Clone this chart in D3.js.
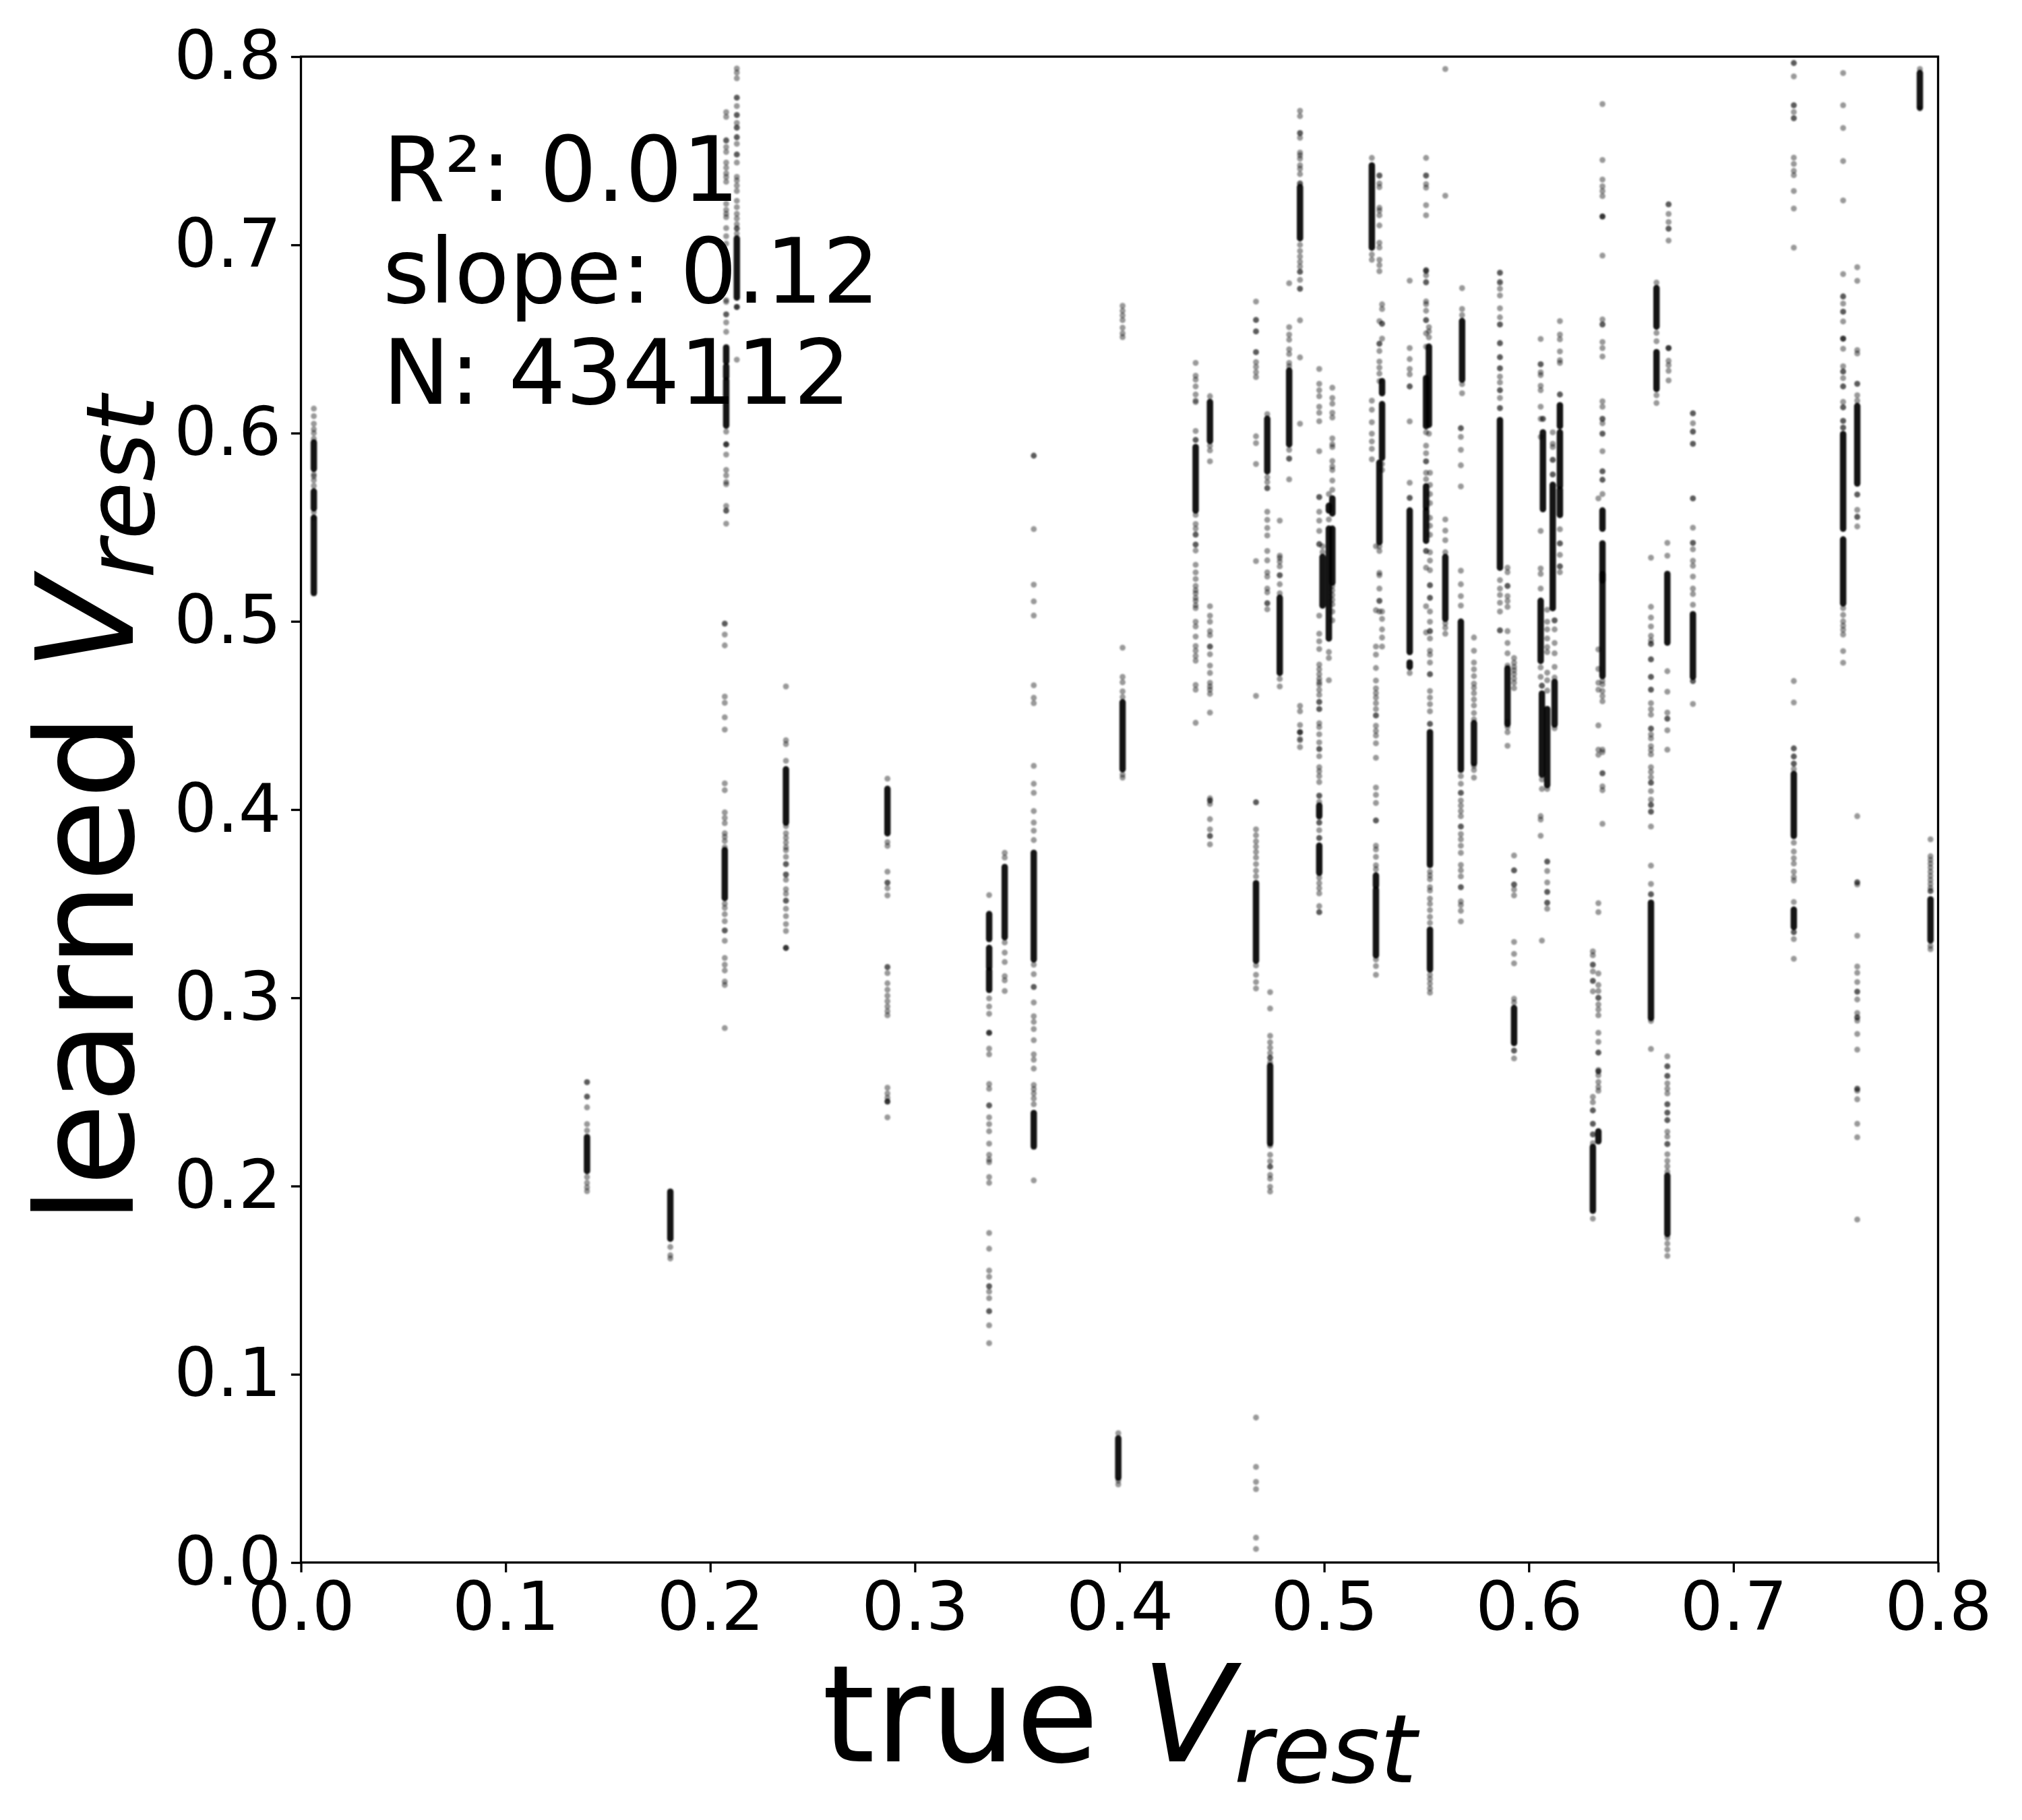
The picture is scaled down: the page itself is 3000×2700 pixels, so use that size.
<!DOCTYPE html>
<html lang="en">

<head>
    <meta charset="UTF-8">
    <title>learned vs true Vrest</title>
    <script src="https://d3js.org/d3.v7.min.js"></script>
    <style>
        * {
            margin: 0;
            padding: 0;
        }

        body {
            background: #fff;
        }

        text {
            font-family: "DejaVu Sans", sans-serif;
            fill: #000;
        }
    </style>
</head>

<body>
    <svg id="chart" width="3000" height="2700"></svg>
    <script>
        var xTicks = [0, 0.1, 0.2, 0.3, 0.4, 0.5, 0.6, 0.7, 0.8];
        var yTicks = [0, 0.1, 0.2, 0.3, 0.4, 0.5, 0.6, 0.7, 0.8];
        var statLines = ["R\u00b2: 0.01", "slope: 0.12", "N: 434112"];

        // x value of every vertical strip, same order in the two lists below
        var trueV = [
            .0063, .1398, .1805, .2078, .2071, .213, .237, .2866, .3363, .3439,
            .3581, .3994, .4015, .4372, .4442, .4667, .4722, .4736, .4783, .4829,
            .4882, .4976, .4992, .5023, .504, .5233, .5253, .527, .5283, .5418,
            .5498, .5512, .5517, .5592, .5668, .5674, .5732, .5859, .5896, .5928,
            .6058, .6064, .6069, .609, .6117, .6126, .6152, .6313, .634, .636,
            .6597, .6624, .6677, .6683, .6802, .7295, .7536, .7605, .7911, .7963
        ];

        // parts of a strip so packed that the dots merge: [from, to]
        var denseRuns = [
            [[.515, .555], [.56, .569], [.581, .595]],
            [[.208, .226]],
            [[.172, .197]],
            [[.604, .628], [.638, .6455], [.6297, .6355]],
            [[.353, .3784]],
            [[.672, .7034]],
            [[.3931, .4214]],
            [[.3874, .411]],
            [[.3312, .3445], [.3161, .3265], [.3042, .3145]],
            [[.3322, .3695]],
            [[.3204, .377], [.221, .2388]],
            [[.0451, .0659]],
            [[.4214, .457]],
            [[.5589, .5926]],
            [[.5958, .6165]],
            [[.3197, .3609]],
            [[.5797, .6076]],
            [[.2227, .2639]],
            [[.4726, .5125]],
            [[.594, .6332]],
            [[.7035, .7307]],
            [[.4021, .3965], [.3664, .3808]],
            [[.5084, .5342]],
            [[.4909, .5492], [.5589, .5614]],
            [[.5206, .5492], [.5573, .5653]],
            [[.6986, .7422]],
            [[.3226, .3575], [.3595, .365]],
            [[.5421, .5843]],
            [[.5869, .6154], [.6212, .6276]],
            [[.4837, .5589], [.4758, .4781]],
            [[.6037, .6292], [.5604, .5717], [.5428, .5589]],
            [[.6044, .6459]],
            [[.3706, .4411], [.3151, .3362]],
            [[.5013, .5342]],
            [[.4212, .4998]],
            [[.6284, .6595]],
            [[.4246, .4459]],
            [[.5285, .6069]],
            [[.4454, .4749]],
            [[.276, .2945]],
            [[.479, .5109]],
            [[.4186, .4616]],
            [[.5596, .6004]],
            [[.413, .4534]],
            [[.507, .5725]],
            [[.4452, .4678]],
            [[.5565, .57], [.5718, .6004], [.6037, .6148]],
            [[.1869, .2207]],
            [[.2238, .229]],
            [[.4709, .5252], [.5217, .5414], [.5492, .5589]],
            [[.2893, .3505]],
            [[.6235, .643], [.6566, .677]],
            [[.1745, .2055], [.4887, .5252]],
            [],
            [[.4705, .5038]],
            [[.386, .4189], [.3376, .3468]],
            [[.5095, .5435], [.5492, .5995]],
            [[.5732, .6144]],
            [[.773, .7913]],
            [[.3305, .3523]]
        ];

        // single dots that can be told apart, repeated values are the darker spots
        var looseDots = [
            [.613, .609, .605, .602, .6, .597, .578, .575, .572, .558, .577, .555],
            [.2552, .2552, .2475, .2475, .2418, .2329, .2295, .2048, .2017, .1993, .1973],
            [.1676, .1632, .1615],
            [.7705, .768, .7555, .7555, .752, .7494, .7437, .741, .738, .736, .7335, .7218, .7186, .7165, .7147, .7089, .7046, .7007, .69, .685, .68, .6706, .6697, .6631, .6631, .6588, .6538, .6008, .594, .594, .594, .5886, .5804, .5775, .574, .5728, .5613, .5588, .5588, .5519],
            [.4988, .4988, .493, .4872, .46, .4567, .449, .4425, .4139, .4103, .3985, .3956, .3928, .3874, .3855, .3833, .38, .35, .3478, .3444, .3407, .3358, .3358, .3303, .3212, .3176, .3145, .3086, .3068, .2839],
            [.7937, .7915, .7885, .7782, .7782, .7737, .769, .769, .7648, .7623, .7623, .7572, .7572, .7537, .748, .748, .7437, .7361, .7342, .7315, .7286, .7234, .72, .7165, .714, .711, .7087, .7087, .706, .667, .667, .667, .639],
            [.4654, .4368, .4348, .4259, .3912, .3874, .385, .3825, .38, .3784, .3749, .371, .371, .3655, .3655, .3627, .3577, .3553, .3516, .3516, .3473, .3434, .3392, .3355, .3265, .3265, .3265],
            [.4164, .3827, .3807, .367, .3612, .3612, .3582, .3544, .3163, .3163, .3131, .3077, .3043, .3011, .2982, .2954, .2929, .2907, .2522, .2492, .2469, .2449, .2449, .2449, .2365],
            [.3546, .2997, .2954, .2915, .2814, .2814, .2814, .273, .27, .2542, .2517, .2428, .2428, .2365, .2329, .2291, .2225, .2166, .2141, .2127, .2048, .2017, .1751, .1667, .1551, .1518, .1468, .1468, .1439, .1404, .1335, .1335, .126, .1165],
            [.377, .3745, .3294, .324, .319, .3115, .3093, .3036],
            [.588, .588, .549, .5195, .5106, .5031, .466, .4594, .4565, .4232, .4137, .4089, .3992, .3931, .3888, .3838, .3176, .3126, .3058, .3058, .2975, .2902, .2872, .2834, .2775, .27, .2671, .2624, .2537, .2515, .2492, .2465, .2435, .203],
            [.0687, .0415, .0435],
            [.6676, .665, .6625, .66, .656, .653, .651, .486, .4705, .4676, .4628, .4598, .4186, .417],
            [.6373, .6305, .6284, .6248, .6205, .6172, .6165, .6011, .5964, .5964, .5565, .5517, .5493, .5461, .5461, .5408, .5408, .5376, .53, .526, .5188, .5149, .5109, .507, .4998, .4973, .4919, .4869, .4844, .4816, .4791, .4662, .4637, .4461, .5225, .5165, .5125, .5085],
            [.6196, .5933, .5908, .585, .508, .503, .4998, .4948, .4926, .4866, .4866, .4825, .4765, .4726, .4674, .4654, .4637, .4615, .4515, .406, .4048, .4048, .403, .3949, .3895, .386, .386, .3815],
            [.6699, .6601, .6601, .654, .654, .643, .643, .6377, .6352, .6324, .6298, .5983, .5947, .5836, .532, .4604, .4039, .4039, .3895, .3863, .3831, .3803, .3775, .3745, .371, .3675, .3645, .3172, .3122, .3084, .305, .077, .0508, .0428, .039, .0132, .0072],
            [.6101, .5765, .574, .5708, .5708, .5582, .5539, .5496, .5456, .5374, .5324, .526, .5238, .5174, .5154, .5096, .5096, .5064],
            [.303, .2943, .2798, .2764, .2735, .2707, .2682, .2682, .2657, .2214, .2166, .2132, .2103, .2103, .2059, .2039, .1996, .1971],
            [.5535, .5349, .5336, .5317, .5292, .5245, .5245, .5197, .5149, .4694, .4654],
            [.6796, .6563, .6523, .6496, .6445, .642, .6373, .6355, .5911, .5864, .5864, .5754],
            [.7712, .7684, .7594, .7594, .7569, .749, .7476, .7458, .7423, .7404, .7376, .7326, .7326, .7, .6967, .6938, .691, .6885, .6857, .6857, .6814, .6767, .6767, .6599, .6402, .605, .4551, .4522, .4449, .4411, .4411, .4411, .4375, .4368, .4332],
            [.6341, .6262, .6228, .6196, .614, .6108, .6063, .5904, .566, .566, .5582, .5535, .548, .541, .541, .503, .4934, .4894, .4853, .477, .4745, .4719, .4695, .4677, .4665, .4636, .4609, .4572, .4572, .4534, .4534, .4459, .4438, .44, .4357, .4322, .4322, .4283, .4225, .4204, .4178, .4146, .4074, .4074, .4041, .3931, .3931, .389, .3849, .3849, .3638, .3609, .3582, .3555, .3487, .3455, .3455],
            [.5399, .5368],
            [.5676, .5541, .4837, .4805, .4687],
            [.6241, .6187, .6156, .6108, .6083, .5972, .594, .5926, .5852, .5822, .5804, .5748, .5699, .5188, .5165, .514, .5115, .509, .5052, .5005],
            [.7462, .6949, .6921, .6172, .6124, .6058, .5997, .5956, .5916, .5861],
            [.5399, .5059, .4866, .4823, .4752, .4685, .4644, .4619, .4595, .4565, .4534, .45, .45, .4445, .4418, .4393, .4352, .4275, .4117, .4078, .4035, .3942, .3942, .3808, .3788, .3749, .3704, .3683, .3204, .3169, .3122],
            [.7368, .7368, .7326, .7307, .7197, .7182, .7157, .7103, .7011, .6986, .6921, .6892, .686, .6595, .6475, .6475, .6436, .638, .6348, .6316, .6276, .5257, .5245, .5174, .5109, .5109, .5052, .5399, .5374],
            [.6684, .6659, .6581, .6581, .6502, .5836, .5804, .5052, .5013, .4957, .4914, .4866],
            [.681, .6452, .6393, .6341, .6312, .6248, .6248, .6062, .5736, .5656, .5656, .4726],
            [.7462, .7368, .7368, .7323, .7304, .7211, .7157, .6865, .6865, .6838, .6803, .686, .68, .67, .6685, .665, .66, .66, .653, .6459, .6004, .5933, .5893, .585, .585, .5789, .5755, .5374, .5374, .5285, .508, .4941],
            [.6563, .654, .6509, .5997],
            [.5789, .5725, .5676, .5628, .555, .5508, .546, .5367, .5323, .5272, .5192, .5192, .5125, .5125, .5052, .4998, .4948, .4948, .4909, .4844, .4823, .4781, .4719, .4719, .463, .4595, .456, .4522, .4455, .4455, .367, .365, .363, .3588, .357, .3527, .3499, .3466, .343, .3398, .3122, .31, .3076, .305, .3027],
            [.7934, .7261, .5541, .5482, .5431, .5367, .499, .4966, .4934],
            [.6026, .6026, .598, .5911, .5829, .5717, .5269, .5197, .5134, .5084, .4178, .4137, .4089, .4089, .4048, .4021, .3992, .3965, .391, .391, .387, .3842, .3808, .377, .3706, .3677, .3645, .3588, .3588, .3512, .3493, .3462, .3406],
            [.677, .6659, .6627, .626, .6212],
            [.4914, .4844, .4781, .4745, .4709, .4669, .4647, .4618, .4585, .4553, .4513, .4479, .4232, .421, .417],
            [.6853, .6851, .6803, .6799, .6767, .6731, .6663, .6615, .6577, .6577, .6478, .6478, .6403, .6403, .6344, .6344, .63, .6269, .6228, .6228, .6187, .6133, .6133, .5219, .5174, .514, .5099, .5052, .4952, .4952],
            [.5285, .5261, .5188, .5188, .5134, .5108, .5077, .4948, .4885, .483, .4765, .4465, .4438, .4411, .4339],
            [.4805, .478, .4758, .474, .472, .4696, .4674, .4645, .3756, .3677, .3677, .3602, .3602, .3575, .3544, .3297, .3233, .3183, .2995, .2975, .2719, .2719, .2678],
            [.65, .6366, .6366, .6323, .6308, .6251, .6228, .614, .6076, .598, .548, .5281, .5252, .5174, .4755, .4705, .3965, .3947, .3861],
            [.4658, .4658, .416, .411, .3304],
            [.6076, .6076],
            [.5061, .4998, .4957, .4909, .4863, .4837, .4727, .4687, .4632, .411, .3724, .3724, .3674, .3613, .3563, .3563, .3505, .3505, .3473],
            [.6004, .5943, .5926, .5858, .5858, .578, .578],
            [.5005, .5005, .4957, .4885, .483, .4758, .4701, .4432],
            [.6595, .6523, .6498, .6434, .6387, .6373, .6205, .6205, .5489, .5414, .5414, .5353, .5292, .5292, .5261],
            [.3247, .3226, .3176, .3176, .314, .309, .309, .3034, .2474, .2445, .2402, .2402, .2331, .2331, .2274, .2274, .2228, .1827],
            [.5653, .4851, .4747, .4674, .4637, .4447, .4318, .4291, .3503, .3455, .3129, .3068, .3036, .3, .3, .2965, .2938, .2907, .2814, .2766, .2709, .2709, .2616, .2589, .2609, .2609, .2553, .2526, .2506],
            [.7748, .7451, .7347, .7311, .7286, .7259, .7151, .7151, .7151, .6943, .6604, .6577, .6577, .6484, .6452, .6407, .6169, .614, .6076, .6076, .6052, .5997, .5997, .5904, .5797, .5797, .5752, .5752, .5676, .463, .4684, .4665, .4603, .4575, .4318, .4305, .4193, .4193, .4123, .4103, .3924],
            [.5338, .5077, .502, .4973, .4923, .4898, .488, .488, .4798, .4798, .4705, .4705, .4637, .4637, .4565, .4533, .4504, .443, .443, .4399, .4378, .4337, .4316, .4293, .4225, .42, .4171, .4143, .4143, .4098, .4053, .4025, .4025, .3989, .3989, .391, .3702, .3605, .355, .355, .2877, .2728],
            [.68, .6532, .6488, .6201, .616],
            [.5417, .5349, .4735, .4626, .4515, .4483, .4483, .4421, .4318, .2689, .2636, .2636, .2585, .2585, .2546, .2517, .2492, .2435, .2435, .239, .239, .235, .235, .2289, .2263, .2223, .2223, .2169, .2134, .2105, .2077, .1726, .1694, .1663, .1629],
            [.7215, .7215, .7164, .7121, .7086, .7086, .7023, .6452, .6452, .6452, .6384, .6361, .6331, .628],
            [.6105, .6105, .6052, .6008, .6008, .5943, .5943, .5653, .5653, .5497, .5417, .5417, .5383, .5322, .5295, .5238, .5174, .5145, .5088, .4683, .4683, .4561],
            [.7966, .7966, .7895, .7742, .7742, .7706, .7673, .7673, .7463, .743, .7393, .737, .7286, .7193, .6985, .4683, .4569, .4325, .4325, .4282, .4282, .4244, .4244, .4215, .3824, .3777, .3742, .3713, .367, .3641, .3623, .3509, .3349, .3349, .3312, .3207],
            [.7913, .7742, .7621, .7445, .7236, .6845, .6726, .6726, .6688, .6645, .6645, .6593, .6502, .6502, .6502, .6448, .6355, .6327, .6327, .6292, .6248, .6248, .6166, .6137, .6137, .6065, .6065, .6029, .6029, .507, .5034, .5, .4977, .4955, .493, .4842, .478],
            [.6881, .6809, .6441, .6423, .6262, .6262, .6201, .6172, .5674, .5674, .5592, .5555, .5555, .5504, .3965, .3614, .3614, .3602, .333, .3166, .3133, .3084, .3033, .3033, .2991, .2919, .2896, .2896, .2879, .2808, .2725, .2517, .2517, .2506, .2461, .2331, .2259, .1822],
            [.7934, .7725],
            [.3842, .3752, .3733, .3713, .3692, .367, .3648, .3626, .3605, .3584, .3567, .3567, .3276, .3258]
        ];

        var plotLeft = 446.5,
            plotRight = 2875.5,
            plotTop = 84,
            plotBottom = 2318;

        var svg = d3.select('#chart');
        var x = d3.scaleLinear().domain([0, 0.8]).range([plotLeft, plotRight]);
        var y = d3.scaleLinear().domain([0, 0.8]).range([plotBottom, plotTop]);

        // the dots in the original are soft, not crisp
        svg.append('defs').append('filter')
            .attr('id', 'soft')
            .attr('filterUnits', 'userSpaceOnUse')
            .attr('x', 0).attr('y', 0)
            .attr('width', 3000).attr('height', 2700)
            .append('feGaussianBlur')
            .attr('stdDeviation', 0.9);

        var strips = svg.append('g')
            .attr('filter', 'url(#soft)')
            .selectAll('g.strip')
            .data(trueV)
            .enter()
            .append('g')
            .attr('class', 'strip');

        strips.selectAll('line')
            .data(function (d, i) {
                return denseRuns[i].map(function (r) {
                    return { v: d, from: r[0], to: r[1] };
                });
            })
            .enter()
            .append('line')
            .attr('x1', function (d) { return x(d.v); })
            .attr('x2', function (d) { return x(d.v); })
            .attr('y1', function (d) { return y(d.from); })
            .attr('y2', function (d) { return y(d.to); })
            .attr('stroke', '#000')
            .attr('stroke-width', 9.5)
            .attr('stroke-linecap', 'round')
            .attr('stroke-opacity', 0.92);

        strips.selectAll('circle')
            .data(function (d, i) {
                return looseDots[i].map(function (v) {
                    return { v: d, learned: v };
                });
            })
            .enter()
            .append('circle')
            .attr('cx', function (d) { return x(d.v); })
            .attr('cy', function (d) { return y(d.learned); })
            .attr('r', 4.4)
            .attr('fill', '#000')
            .attr('fill-opacity', 0.4);

        // frame
        svg.append('rect')
            .attr('x', plotLeft)
            .attr('y', plotTop)
            .attr('width', plotRight - plotLeft)
            .attr('height', plotBottom - plotTop)
            .attr('fill', 'none')
            .attr('stroke', '#000')
            .attr('stroke-width', 3.3);

        var xAxis = d3.axisBottom(x).tickValues(xTicks).tickFormat(d3.format('.1f')).tickSize(14.6).tickPadding(14.6);
        var yAxis = d3.axisLeft(y).tickValues(yTicks).tickFormat(d3.format('.1f')).tickSize(14.6).tickPadding(14.6);

        [
            svg.append('g').attr('transform', 'translate(0,' + plotBottom + ')').call(xAxis),
            svg.append('g').attr('transform', 'translate(' + plotLeft + ',0)').call(yAxis)
        ].forEach(function (g) {
            g.select('.domain').remove();
            g.selectAll('.tick line').attr('stroke', '#000').attr('stroke-width', 3.3);
            g.selectAll('.tick text').style('font-size', '100px');
        });

        // stats block
        svg.append('g').selectAll('text')
            .data(statLines)
            .enter()
            .append('text')
            .attr('x', x(0.04))
            .attr('y', function (d, i) { return 298 + i * 150.5; })
            .style('font-size', '133px')
            .text(function (d) { return d; });

        function vrestLabel(sel, word) {
            sel.style('font-size', '200px').attr('text-anchor', 'middle');
            sel.append('tspan').text(word + ' ');
            sel.append('tspan').style('font-style', 'italic').text('V');
            sel.append('tspan')
                .style('font-style', 'italic')
                .style('font-size', '140px')
                .attr('dy', 31)
                .text('rest');
        }

        svg.append('text')
            .attr('x', (plotLeft + plotRight) / 2)
            .attr('y', 2613)
            .call(vrestLabel, 'true');

        svg.append('text')
            .attr('transform', 'translate(197,' + (plotTop + plotBottom) / 2 + ') rotate(-90)')
            .call(vrestLabel, 'learned');
    </script>
</body>

</html>
